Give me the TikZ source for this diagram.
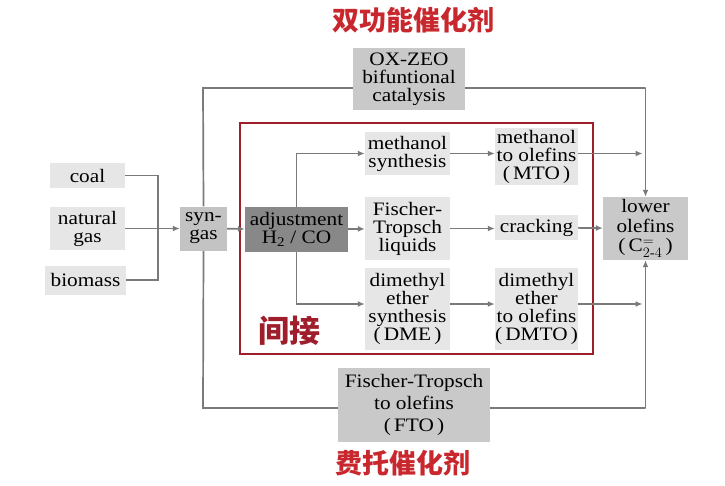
\documentclass[tikz,border=0pt]{standalone}
\usepackage{amsmath}
\usepackage{fontspec}
\setmainfont{Liberation Serif}[FakeStretch=1.12]
\newfontfamily\cjk{Noto Sans CJK SC}
\usetikzlibrary{arrows.meta,backgrounds}
\definecolor{srcgray}{HTML}{E6E6E6}
\definecolor{midgray}{HTML}{C9C9C9}
\definecolor{darkgray}{HTML}{888888}
\definecolor{linegray}{HTML}{7A7A7A}
\definecolor{framered}{HTML}{9E1F2B}
\definecolor{textred}{HTML}{C8282D}

\begin{document}
\begin{tikzpicture}[x=1pt,y=-1pt,>={Latex[length=7pt,width=6pt]},
    box/.style={fill=srcgray,inner sep=0pt,align=center,font=\fontsize{19}{18}\selectfont},
    flow/.style={draw=linegray,line width=1.7pt},
    note/.style={text=textred,font=\cjk\bfseries\fontsize{27}{27}\selectfont}]
  \useasboundingbox (0,0) rectangle (725,485);

  \node [note] (bif) at (413,20) {双功能催化剂};
  \node [note] (fischer) at (403,463) {费托催化剂};

  \node [box, minimum width=75, minimum height=25] (coal) at (87.5,175.5) {coal};
  \node [box, minimum width=75, minimum height=43] (gas) at (87.5,228.5) {natural\\gas};
  \node [box, minimum width=81, minimum height=29] (biomass) at (85.5,280) {biomass};
  \node [box, fill=srcgray!85!black, minimum width=47, minimum height=44] (syngas) at (203.5,228.5) {syn-\\gas};
  \node [box, fill=darkgray, minimum width=103, minimum height=45] (adjust) at (296.5,229.5) {adjustment\\H\textsubscript{2} / CO};

  \node [box, minimum width=85, minimum height=43] (methsyn) at (407.5,153.5) {methanol\\synthesis};
  \node [box, minimum width=85, minimum height=63] (ftliq) at (407.5,228.5) {Fischer-\\Tropsch\\liquids};
  \node [box, minimum width=85, minimum height=82] (dme) at (407.5,309) {dimethyl\\ether\\synthesis\\(\,DME\,)};

  \node [box, minimum width=83, minimum height=57] (mto) at (536.5,156.5) {methanol\\to olefins\\(\,MTO\,)};
  \node [box, minimum width=83, minimum height=25] (cracking) at (536.5,227.5) {cracking};
  \node [box, minimum width=83, minimum height=82] (dmto) at (536.5,309) {dimethyl\\ether\\to olefins\\(\,DMTO\,)};

  \node [box, fill=midgray, minimum width=85, minimum height=63,
         font=\fontsize{19}{19.5}\selectfont] (olefins) at (645.5,228.5) {lower\\olefins\\(\,C$^{=}_{2\text{-}4}$\,)};
  \node [box, fill=midgray, minimum width=112, minimum height=62] (oxzeo) at (409,79) {OX-ZEO\\bifuntional\\catalysis};
  \node [box, fill=midgray, minimum width=152, minimum height=74,
         font=\fontsize{19}{22}\selectfont] (fto) at (414,405) {Fischer-Tropsch\\to olefins\\(\,FTO\,)};

  \node [text=framered, font=\cjk\bfseries\fontsize{31}{31}\selectfont] (indirect) at (289,331) {间接};

  \coordinate (tl) at (203,88);
  \coordinate (tr) at (645.5,88);
  \coordinate (bl) at (203,408);
  \coordinate (br) at (645.5,408);
  \coordinate (join) at (158,228.5);

  \begin{pgfonlayer}{background}
    \draw [framered, line width=2.6pt] (240,123) rectangle (593,354);
    % feeds
    \path [flow] (coal.east) -| (join) |- (biomass.east);
    \path [flow, ->] (gas) -- (syngas);
    \path [flow, ->] (syngas) -- (adjust);
    % direct routes
    \path [flow] (syngas.north) -- (tl) -- (tr);
    \path [flow, ->] (tr) -- (olefins.north);
    \path [flow] (syngas.south) -- (bl) -- (br);
    \path [flow, ->] (br) -- (olefins.south);
    % indirect routes
    \path [flow, ->] (adjust.north) |- (methsyn.west);
    \path [flow, ->] (adjust) -- (ftliq);
    \path [flow, ->] (adjust.south) |- ([yshift=5]dme.west);
    \path [flow, ->] (methsyn) -- (methsyn -| mto.west);
    \path [flow, ->] (ftliq) -- (ftliq -| cracking.west);
    \path [flow, ->] ([yshift=5]dme.east) -- ([yshift=5]dme.east -| dmto.west);
    \path [flow, ->, shorten >=3pt] (mto.east |- methsyn) -- (methsyn -| tr);
    \path [flow, ->] (cracking) -- (olefins);
    \path [flow, ->, shorten >=3pt] ([yshift=5]dmto.east) -- ([yshift=5]dmto.east -| tr);
  \end{pgfonlayer}
\end{tikzpicture}
\end{document}
